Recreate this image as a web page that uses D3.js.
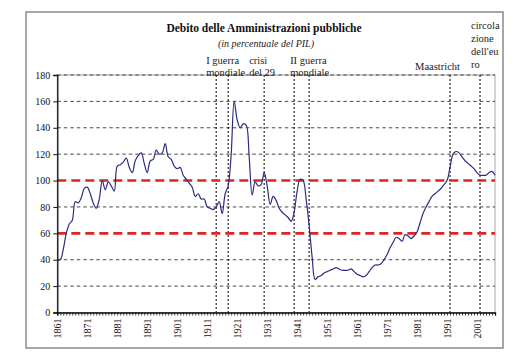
<!DOCTYPE html>
<html><head><meta charset="utf-8">
<script src="https://cdn.jsdelivr.net/npm/d3@7/dist/d3.min.js"></script>
<style>body{margin:0;background:#fff}svg{display:block}</style>
</head><body><svg id="c" width="529" height="359"></svg>
<script>
const firstYear = 1861, lastYear = 2007;
const debt = [
 40,40,48,60,67,70,84,83,87,94,
 95,90,83,79,86,100,93,99,96,92,
 111,112,114,117,110,106,115,119,121,113,
 106,115,116,123,120,121,128,118,116,111,
 109,110,104,101,98,95,88,90,86,86,
 80,79,78,80,84,75,90,96,120,160,
 146,140,143,142,118,89,99,96,97,106,
 96,82,88,85,79,76,74,72,69,76,
 92,101,100,86,66,42,25,27,28,30,
 31,32,33,34,33,32,32,32,33,31,
 29,28,27,28,31,34,36,36,37,40,
 44,49,53,57,56,54,59,58,56,58,
 61,68,75,80,84,88,90,92,94,97,
 100,110,120,122,121,118,115,113,111,109,
 106,104,104,104,106,107,104
];
const yTicks = [0,20,40,60,80,100,120,140,160,180];
const xTickLabels = [1861,1871,1881,1891,1901,1911,1921,1931,1941,1951,1961,1971,1981,1991,2001];
const refLines = [60,100];
const eventYears = [1914,1918,1930,1940,1945,1992,2002];
const labelYears = [1914,1930,1940,1992,2002];
const labelTexts = [["I guerra","mondiale"],["crisi","del 29"],["II guerra","mondiale"],["Maastricht"],["circola","zione","dell'eu","ro"]];
const title = "Debito delle Amministrazioni pubbliche";
const subtitle = "(in percentuale del PIL)";

const years = d3.range(firstYear, lastYear+1);
const data = years.map((y,i)=>({year:y, v:debt[i]}));

const svg = d3.select("#c");
const serif = "'Liberation Serif','Times New Roman',serif";
const L=57.3, R=495, T=75, B=312.5;
const x = d3.scaleLinear().domain([firstYear,lastYear]).range([L,R]);
const y = d3.scaleLinear().domain([0,180]).range([B,T]);

// outer frame
svg.append("rect").attr("x",26).attr("y",12).attr("width",477).attr("height",336)
  .attr("fill","#fff").attr("stroke","#8a8a8a").attr("stroke-width",1.5);

// title
svg.append("text").attr("x",264).attr("y",32).attr("text-anchor","middle")
  .attr("font-family",serif).attr("font-weight","bold").attr("font-size",11.5).attr("fill","#111").text(title);
svg.append("text").attr("x",266).attr("y",47).attr("text-anchor","middle")
  .attr("font-family",serif).attr("font-style","italic").attr("font-size",10).attr("fill","#222").text(subtitle);

// plot border
svg.append("rect").attr("x",L).attr("y",T).attr("width",R-L).attr("height",B-T)
  .attr("fill","none").attr("stroke","#a8a8a8").attr("stroke-width",1);

// grid
svg.append("g").selectAll("line").data(yTicks.filter(d=>d>0 && !refLines.includes(d))).join("line")
  .attr("x1",L).attr("x2",R).attr("y1",d=>y(d)).attr("y2",d=>y(d))
  .attr("stroke","#333").attr("stroke-width",0.9).attr("stroke-dasharray","3.5,3");

// event lines
svg.append("g").selectAll("line").data(eventYears).join("line")
  .attr("x1",d=>x(d)).attr("x2",d=>x(d)).attr("y1",T).attr("y2",B)
  .attr("stroke","#111").attr("stroke-width",1.1).attr("stroke-dasharray","2,2");

// ref lines
svg.append("g").selectAll("line").data(refLines).join("line")
  .attr("x1",L).attr("x2",R).attr("y1",d=>y(d)).attr("y2",d=>y(d))
  .attr("stroke","#e02424").attr("stroke-width",2.6).attr("stroke-dasharray","9,5");

// series line
const line = d3.line().x(d=>x(d.year)).y(d=>y(d.v)).curve(d3.curveCatmullRom.alpha(0.5));
svg.append("path").datum(data).attr("d",line).attr("fill","none")
  .attr("stroke","#2b2d82").attr("stroke-width",1.2);

// y axis
const ya = svg.append("g").attr("transform",`translate(${L},0)`)
  .call(d3.axisLeft(y).tickValues(yTicks).tickSize(4).tickPadding(3).tickFormat(d3.format("d")));
ya.select(".domain").attr("stroke","#111").attr("stroke-width",1.3);
ya.selectAll(".tick line").attr("stroke","#111");
ya.selectAll("text").attr("font-family",serif).attr("font-size",10).attr("fill","#111");

// x axis
const xa = svg.append("g").attr("transform",`translate(0,${B})`)
  .call(d3.axisBottom(x).tickValues(years).tickSize(3).tickFormat(""));
xa.select(".domain").attr("stroke","#111").attr("stroke-width",1.3);
xa.selectAll(".tick line").attr("stroke","#111").attr("stroke-width",0.8);
svg.append("g").selectAll("text").data(xTickLabels).join("text")
  .attr("transform",d=>`translate(${x(d)},${B+6}) rotate(-90)`)
  .attr("text-anchor","end").attr("dy","0.35em")
  .attr("font-family",serif).attr("font-size",10).attr("fill","#111").text(d=>d);

// event labels
const offsets = [-10,-15,-4,10,-9];
const anchors = ["start","start","start","end","start"];
const firstBase = [64,64,64,70,29];
labelTexts.forEach((lines,i)=>{
  const t = svg.append("text").attr("font-family",serif).attr("font-size",10.5).attr("fill","#222")
    .attr("text-anchor",anchors[i]);
  lines.forEach((s,j)=>{
    t.append("tspan").attr("x",x(labelYears[i])+offsets[i]).attr("y",firstBase[i]+j*(lines.length>2?13:11.5)).text(s);
  });
});
</script></body></html>
